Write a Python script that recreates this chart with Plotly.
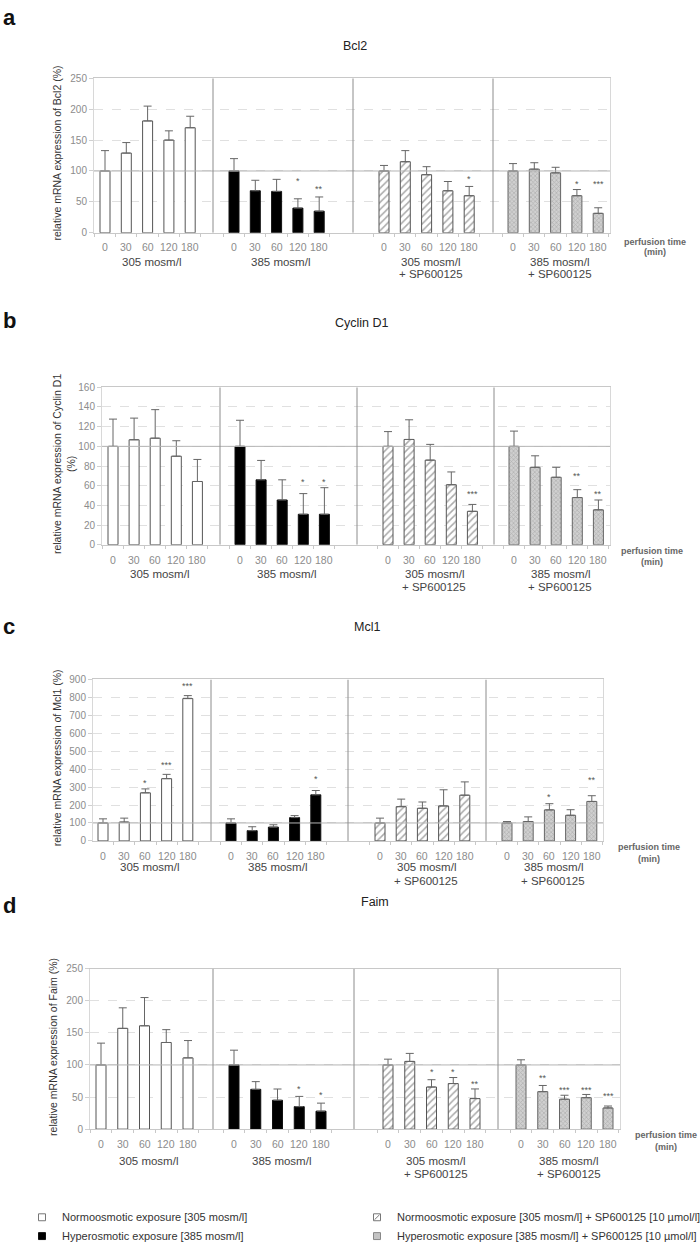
import plotly.graph_objects as go

W, H = 700, 1251

# ---------------- data ----------------
times = ["0", "30", "60", "120", "180"]
group_top = ["305 mosm/l", "385 mosm/l", "305 mosm/l", "385 mosm/l"]
group_bottom = ["", "", "+ SP600125", "+ SP600125"]
legend_labels = [
    "Normoosmotic exposure [305 mosm/l]",
    "Hyperosmotic exposure [385 mosm/l]",
    "Normoosmotic exposure [305 mosm/l] + SP600125 [10 µmol/l]",
    "Hyperosmotic exposure [385 mosm/l] + SP600125 [10 µmol/l]",
]
genes = ["Bcl2", "Cyclin D1", "Mcl1", "Faim"]
letters = ["a", "b", "c", "d"]
ytitles = [
    "relative mRNA expression of Bcl2 (%)",
    "relative mRNA expression of Cyclin D1<br>(%)",
    "relative mRNA expression of Mcl1 (%)",
    "relative mRNA expression of Faim (%)",
]

# mean values per group (305, 385, 305+SP, 385+SP), times 0..180
bcl2_mean = [[100, 129, 181, 150, 170], [100, 68, 67, 40, 35],
             [100, 115, 94, 68, 60], [100, 103, 97, 60, 31.5]]
bcl2_err = [[33, 17, 24, 15, 18.6], [20, 17, 19.5, 15, 23],
            [9, 18, 13, 15, 15], [12, 10.4, 9, 10, 9]]

cyc_mean = [[100, 106.7, 108.3, 90, 64.3], [100, 66, 45.5, 31, 31],
            [100, 107, 86, 61, 34], [100, 78.7, 68.6, 48, 35.5]]
cyc_err = [[27.7, 22, 29, 15.7, 22.4], [26.5, 19.7, 20.5, 21, 27],
           [15, 20, 16, 13, 7], [15.5, 11.7, 10.1, 8, 10]]

mcl1_mean = [[100, 105, 268, 347, 793.5], [100, 57, 77, 130, 257],
             [100, 191, 182, 195, 255], [100, 108, 173, 143, 220]]
mcl1_err = [[23, 22, 22, 24, 16.5], [23, 22, 13, 11, 24],
            [27, 42, 35, 90, 74], [8, 26, 34.5, 31, 32]]

faim_mean = [[100, 157, 161, 135, 111], [100, 62, 45, 35, 28],
             [100, 105.5, 65.6, 71, 47.6], [100, 58.4, 46.6, 49, 33]]
faim_err = [[34, 32, 44, 20, 27], [23, 12, 17.5, 16, 12.5],
            [9, 12.5, 11.4, 9.4, 15], [8, 9.6, 6.2, 5, 3]]

means = [bcl2_mean, cyc_mean, mcl1_mean, faim_mean]
errs = [bcl2_err, cyc_err, mcl1_err, faim_err]

# significance marks: (group, time index, label, level)
bcl2_sig = [(1, 3, "*", 87), (1, 4, "**", 74), (2, 4, "*", 91), (3, 3, "*", 82), (3, 4, "***", 82)]
cyc_sig = [(1, 3, "*", 65.6), (1, 4, "*", 65.6), (2, 4, "***", 53.6), (3, 3, "**", 72), (3, 4, "**", 53.6)]
mcl1_sig = [(0, 2, "*", 336), (0, 3, "***", 435), (0, 4, "***", 872), (1, 4, "*", 354),
            (3, 2, "*", 257), (3, 4, "**", 349)]
faim_sig = [(1, 3, "*", 65.6), (1, 4, "*", 56), (2, 2, "*", 92), (2, 3, "*", 92), (2, 4, "**", 74),
            (3, 1, "**", 82), (3, 2, "***", 64), (3, 3, "***", 64), (3, 4, "***", 54)]
sigs = [bcl2_sig, cyc_sig, mcl1_sig, faim_sig]

y_max = [250, 160, 900, 250]
y_step = [50, 20, 100, 50]
ref_level = 100

# ---------------- layout geometry (pixels) ----------------
geom = [
    dict(left=94, right=610, top=73, bottom=229, first=[105, 234, 384, 513], slot=21.3,
         seps=[213, 353, 493], title_x=355, title_y=40, letter_y=12, ytitle_x=57,
         lab_dy=[14, 29, 42], perf_x=655, perf_dy=[9, 19]),
    dict(left=102, right=610, top=385, bottom=544, first=[113, 240, 388, 514], slot=21.1,
         seps=[220, 357, 494], title_x=362, title_y=320, letter_y=318, ytitle_x=64,
         lab_dy=[15, 29, 43], perf_x=652, perf_dy=[6, 17]),
    dict(left=93, right=603, top=680, bottom=843, first=[103, 231, 380, 507], slot=21.2,
         seps=[211, 348, 486], title_x=367, title_y=627, letter_y=627, ytitle_x=57,
         lab_dy=[15, 26, 40], perf_x=649, perf_dy=[6, 18]),
    dict(left=90, right=620, top=972, bottom=1134, first=[101, 234, 388, 521], slot=21.75,
         seps=[213, 354, 498], title_x=375, title_y=905, letter_y=908, ytitle_x=53,
         lab_dy=[15, 32, 45], perf_x=666, perf_dy=[6, 18]),
]

FONT = "Liberation Sans, Arial, sans-serif"
styles = [
    dict(color="white", line="#555555", pattern=None),
    dict(color="black", line="#111111", pattern=None),
    dict(color="white", line="#555555",
         pattern=dict(shape="/", fgcolor="#555555", bgcolor="white", size=5, solidity=0.3)),
    dict(color="#c4c4c4", line="#666666",
         pattern=dict(shape="x", fgcolor="#8f8f8f", bgcolor="#d0d0d0", size=3, solidity=0.4)),
]


def px(x):
    return x / W


def py(y):
    return 1 - y / H


def label(x, y, text, size, color, xanchor="center", **kw):
    return dict(x=px(x), y=py(y), xref="paper", yref="paper", text=text, showarrow=False,
                xanchor=xanchor, yanchor="middle",
                font=dict(family=FONT, size=size, color=color), **kw)


fig = go.Figure()
shapes = []
annotations = []

for p in range(4):
    g = geom[p]
    n = "" if p == 0 else str(p + 1)
    xa, ya = "x" + n, "y" + n
    for c in range(4):
        xs = [g["first"][c] + i * g["slot"] for i in range(5)]
        st = styles[c]
        marker = dict(color=st["color"], line=dict(color=st["line"], width=1))
        if st["pattern"]:
            marker["pattern"] = st["pattern"]
        fig.add_trace(go.Bar(
            x=xs, y=means[p][c], width=10, marker=marker, xaxis=xa, yaxis=ya,
            showlegend=False, name=legend_labels[c],
            error_y=dict(type="data", symmetric=False, array=errs[p][c],
                         arrayminus=[0] * 5, color="#666666", thickness=1, width=4),
        ))
    minor_vals = [g["first"][c] - g["slot"] / 2 + k * g["slot"] for c in range(4) for k in range(6)]
    fig.update_layout(**{
        "xaxis" + n: dict(
            domain=[px(g["left"]), px(g["right"])], range=[g["left"], g["right"]],
            anchor=ya, showgrid=False, zeroline=False, showline=True, linecolor="#c8c8c8",
            mirror=True, showticklabels=False, ticks="",
            minor=dict(tickmode="array", tickvals=minor_vals, ticks="outside", ticklen=3,
                       tickcolor="#c8c8c8"),
        ),
        "yaxis" + n: dict(
            domain=[py(g["bottom"]), py(g["top"])], range=[0, y_max[p]], anchor=xa,
            tickmode="linear", tick0=0, dtick=y_step[p], showgrid=True, gridcolor="#e0e0e0",
            griddash="dash", gridwidth=1, zeroline=False, showline=True, linecolor="#d8d8d8",
            mirror=True, ticks="outside", ticklen=4, tickcolor="#d0d0d0",
            tickfont=dict(family=FONT, size=10, color="#8c8c8c"),
        ),
    })
    # reference line at 100%
    shapes.append(dict(type="line", xref=xa, yref=ya, x0=g["left"], x1=g["right"],
                       y0=ref_level, y1=ref_level, line=dict(color="#b4b4b4", width=1)))
    # group separators
    for s in g["seps"]:
        shapes.append(dict(type="line", xref=xa, yref=ya, x0=s, x1=s, y0=0, y1=y_max[p],
                           line=dict(color="#8c8c8c", width=1)))
    # significance marks
    for (gi, ti, lab, lvl) in sigs[p]:
        annotations.append(dict(x=g["first"][gi] + ti * g["slot"], y=lvl, xref=xa, yref=ya,
                                text=lab, showarrow=False, xanchor="center", yanchor="middle",
                                yshift=-2, font=dict(family=FONT, size=9, color="#555555")))
    # time labels and group labels
    for c in range(4):
        for i in range(5):
            annotations.append(label(g["first"][c] + i * g["slot"], g["bottom"] + g["lab_dy"][0],
                                     times[i], 10.5, "#8c8c8c"))
        cx = g["first"][c] + 2 * g["slot"] + 4
        annotations.append(label(cx, g["bottom"] + g["lab_dy"][1], group_top[c], 11.5, "#444444"))
        if group_bottom[c]:
            annotations.append(label(cx, g["bottom"] + g["lab_dy"][2], group_bottom[c], 11.5,
                                     "#444444"))
    # perfusion time
    annotations.append(label(g["perf_x"], g["bottom"] + g["perf_dy"][0], "<b>perfusion time</b>",
                             9, "#666666"))
    annotations.append(label(g["perf_x"], g["bottom"] + g["perf_dy"][1], "<b>(min)</b>", 9,
                             "#666666"))
    # title, letter, y title
    annotations.append(label(g["title_x"], g["title_y"], genes[p], 12.5, "#222222"))
    annotations.append(label(9, g["letter_y"], "<b>" + letters[p] + "</b>", 22, "#111111"))
    annotations.append(label(g["ytitle_x"], (g["top"] + g["bottom"]) / 2 - 2, ytitles[p], 10.5,
                             "#333333", textangle=-90))

# legend (drawn manually, two columns)
leg_pos = [(42, 1223), (42, 1242), (377, 1223), (377, 1242)]
leg_fill = ["white", "black", "white", "#c4c4c4"]
leg_line = ["#777777", "#111111", "#777777", "#888888"]
for i, (lx, ly) in enumerate(leg_pos):
    shapes.append(dict(type="rect", xref="paper", yref="paper", x0=px(lx - 3.5), x1=px(lx + 3.5),
                       y0=py(ly + 3.5), y1=py(ly - 3.5), fillcolor=leg_fill[i],
                       line=dict(color=leg_line[i], width=1)))
    if i == 2:
        shapes.append(dict(type="line", xref="paper", yref="paper", x0=px(lx - 2.5),
                           x1=px(lx + 2.5), y0=py(ly + 2.5), y1=py(ly - 2.5),
                           line=dict(color="#777777", width=1)))
    annotations.append(label(lx + 18, ly, legend_labels[i], 11, "#333333", xanchor="left"))

fig.update_layout(
    width=W, height=H, margin=dict(l=0, r=0, t=0, b=0),
    paper_bgcolor="white", plot_bgcolor="white", barmode="overlay",
    shapes=shapes, annotations=annotations, showlegend=False,
    font=dict(family=FONT),
)
fig.write_html(
    "out.html",
    config={"displayModeBar": False},
    post_script="document.body.style.margin='0';document.body.style.overflow='hidden';",
)
